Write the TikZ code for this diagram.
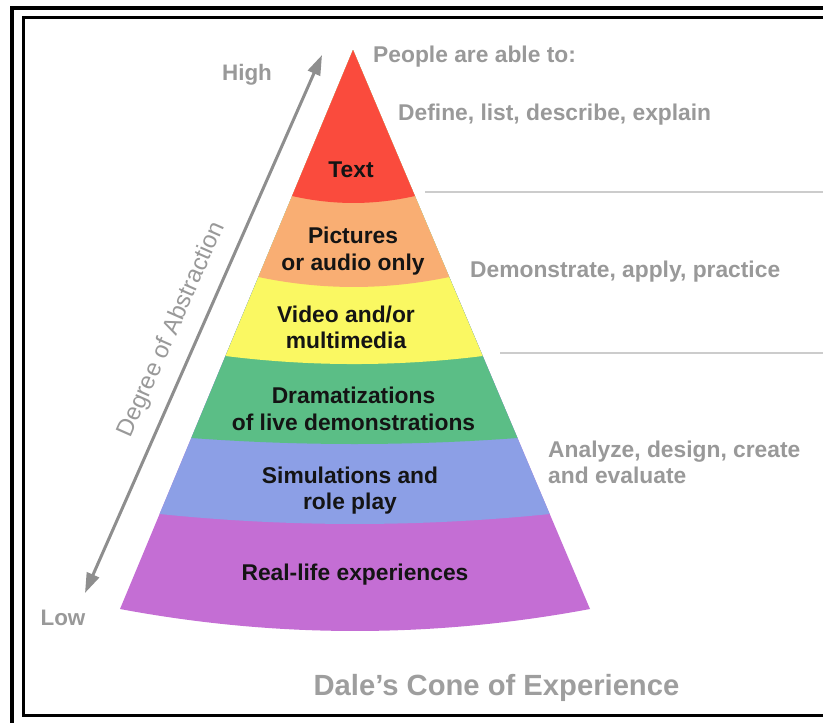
\documentclass[tikz,border=0pt]{standalone}
\usepackage{fontspec}
\setmainfont{Liberation Sans}
\usetikzlibrary{arrows.meta}
\definecolor{cred}{HTML}{FA4B3D}
\definecolor{corange}{HTML}{F9AE73}
\definecolor{cyellow}{HTML}{FAF862}
\definecolor{cgreen}{HTML}{5BBE86}
\definecolor{cblue}{HTML}{8C9FE6}
\definecolor{cpurple}{HTML}{C46ED4}
\definecolor{gtext}{HTML}{999999}
\definecolor{gline}{HTML}{CCCCCC}
\definecolor{garrow}{HTML}{8E8E8E}
\begin{document}
\begin{tikzpicture}[x=1pt,y=-1pt,
  blk/.style={font=\fontsize{22.8}{27}\selectfont\bfseries, text=black!92, inner sep=0pt, anchor=base},
  gray label/.style={font=\fontsize{22.8}{27}\selectfont\bfseries, text=gtext, inner sep=0pt, anchor=base west},
  axis label/.style={font=\fontsize{22.4}{27}\selectfont\bfseries, text=gtext, inner sep=0pt, anchor=base},
  sepline/.style={draw=gline, line width=2.2pt},
  axisarrow/.style={draw=garrow, line width=3pt, {Triangle[length=20pt,width=13pt]}-{Triangle[length=20pt,width=13pt]}}
]
\useasboundingbox (0,0) rectangle (823,723);
\fill[white] (0,0) rectangle (823,723);
% frame
\draw[line width=4pt] (12,740) -- (12,8) -- (840,8);
\draw[line width=3pt] (840,715) -- (23.5,715) -- (23.5,17.5) -- (840,17.5);
% cone
\coordinate (apex) at (353,50);
\fill[cpurple] (apex) -- (120,609) .. controls (276.7,638.3) and (433.3,638.3) .. (590,609) -- cycle;
\fill[cblue] (apex) -- (159.6,514) .. controls (289.6,527.3) and (419.7,527.3) .. (549.7,514) -- cycle;
\fill[cgreen] (apex) -- (191.3,438) .. controls (300.0,446) and (408.8,446) .. (517.5,438) -- cycle;
\fill[cyellow] (apex) -- (225.5,356) .. controls (311.2,366.7) and (397.0,366.7) .. (482.7,356) -- cycle;
\fill[corange] (apex) -- (258.4,277) .. controls (322.0,290.3) and (385.6,290.3) .. (449.2,277) -- cycle;
\fill[cred] (apex) -- (292.1,196) .. controls (333.0,205.3) and (373.9,205.3) .. (414.9,196) -- cycle;
% band labels
\node[blk] (text) at (351,177) {Text};
\node[blk] (pic1) at (353,243) {Pictures};
\node[blk] (pic2) at (353,270) {or audio only};
\node[blk] (vid1) at (346,322) {Video and/or};
\node[blk] (vid2) at (346,348) {multimedia};
\node[blk] (dra1) at (353.5,403) {Dramatizations};
\node[blk] (dra2) at (353.5,430) {of live demonstrations};
\node[blk] (sim1) at (350,483) {Simulations and};
\node[blk] (sim2) at (350,509) {role play};
\node[blk] (real) at (355,580) {Real-life experiences};
% right side
\coordinate (s1a) at (425,192); \coordinate (s1b) at (830,192);
\coordinate (s2a) at (500,353); \coordinate (s2b) at (830,353);
\draw[sepline] (s1a) -- (s1b);
\draw[sepline] (s2a) -- (s2b);
\node[gray label] (people) at (373,62) {People are able to:};
\node[gray label] (define) at (398,120) {Define, list, describe, explain};
\node[gray label] (demo) at (470,277) {Demonstrate, apply, practice};
\node[gray label] (anal1) at (548,457) {Analyze, design, create};
\node[gray label] (anal2) at (548,483) {and evaluate};
% axis
\coordinate (lo) at (85,593);
\coordinate (hi) at (322,55);
\draw[axisarrow] (lo) -- (hi);
\node[axis label] (high) at (247,80) {High};
\node[axis label] (low) at (63,625) {Low};
\node[font=\fontsize{24}{28}\selectfont, text=gtext, inner sep=0pt, rotate=66.2] (degree) at (172,330) {Degree of Abstraction};
% title
\node[font=\fontsize{29.2}{34}\selectfont\bfseries, text=gtext!95, inner sep=0pt, anchor=base] (title) at (496.5,695) {Dale's Cone of Experience};
\end{tikzpicture}
\end{document}
